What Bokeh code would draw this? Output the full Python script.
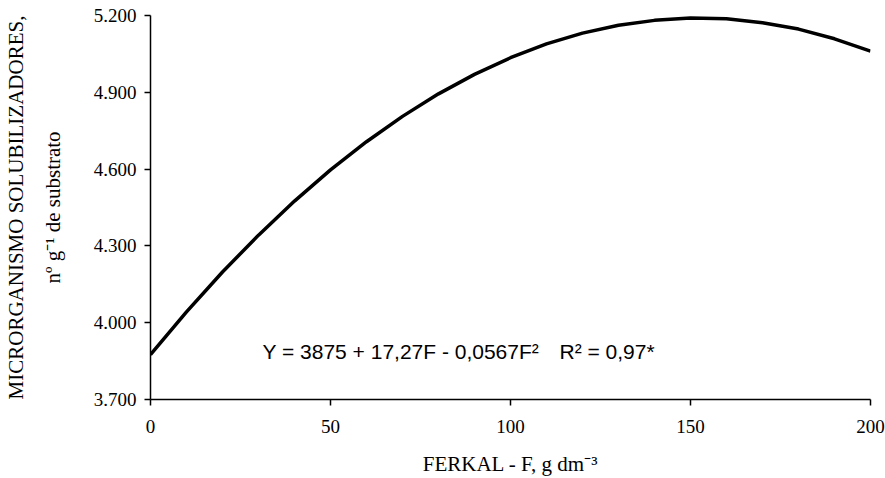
from bokeh.plotting import figure
from bokeh.models import Range1d, FixedTicker, Label, LinearAxis
from bokeh.embed import file_html
from bokeh.resources import INLINE

# Data
ferkal = [0, 10, 20, 30, 40, 50, 60, 70, 80, 90, 100, 110, 120, 130, 140, 150, 160, 170, 180, 190, 200]
microrg = [3875, 4042, 4198, 4342, 4475, 4597, 4707, 4806, 4894, 4970, 5035, 5089, 5131, 5162, 5181,
           5190, 5187, 5172, 5147, 5109, 5061]

x_ticks = [0, 50, 100, 150, 200]
y_ticks = [3700, 4000, 4300, 4600, 4900, 5200]
y_tick_labels = ["3.700", "4.000", "4.300", "4.600", "4.900", "5.200"]

equation = "Y = 3875 + 17,27F - 0,0567F\u00b2"
r_squared = "R\u00b2 = 0,97*"
ylabel1 = "MICRORGANISMO SOLUBILIZADORES,"
ylabel2 = "n\u00ba g\u207b\u00b9 de substrato"
xlabel = "FERKAL - F, g dm\u207b\u00b3"

p = figure(width=885, height=478, output_backend="svg", toolbar_location=None,
           x_range=Range1d(0, 200), y_range=Range1d(3700, 5200),
           min_border_left=148, min_border_right=15, min_border_top=15, min_border_bottom=78)
p.outline_line_color = None
p.xgrid.visible = False
p.ygrid.visible = False
p.background_fill_color = "white"
p.border_fill_color = "white"

p.line(ferkal, microrg, line_color="black", line_width=3.5)

for ax in (p.xaxis[0], p.yaxis[0]):
    ax.axis_line_color = "black"
    ax.axis_line_width = 1.5
    ax.major_tick_line_color = "black"
    ax.major_tick_line_width = 1.5
    ax.major_tick_in = 0
    ax.major_tick_out = 6
    ax.minor_tick_line_color = None
    ax.major_label_text_font = "Liberation Serif"
    ax.major_label_text_font_size = "19px"
    ax.major_label_text_color = "black"
    ax.axis_label_text_font = "Liberation Serif"
    ax.axis_label_text_font_size = "21px"
    ax.axis_label_text_font_style = "normal"
    ax.axis_label_text_color = "black"

p.xaxis.ticker = FixedTicker(ticks=x_ticks)
p.xaxis.major_label_standoff = 14
p.xaxis.axis_label = xlabel
p.xaxis.axis_label_standoff = 16

p.yaxis.ticker = FixedTicker(ticks=y_ticks)
p.yaxis.major_label_overrides = {t: l for t, l in zip(y_ticks, y_tick_labels)}
p.yaxis.major_label_standoff = 8
p.yaxis.axis_label = ylabel2
p.yaxis.axis_label_standoff = 26

outer = LinearAxis(ticker=FixedTicker(ticks=[]), axis_label=ylabel1,
                   axis_line_color=None, major_tick_line_color=None, minor_tick_line_color=None,
                   major_tick_out=0, major_tick_in=0, major_label_standoff=0,
                   axis_label_standoff=10, axis_label_text_font="Liberation Serif",
                   axis_label_text_font_size="21px", axis_label_text_font_style="normal",
                   axis_label_text_color="black")
p.add_layout(outer, "left")

p.add_layout(Label(x=112, y=48, x_units="screen", y_units="screen", text=equation,
                   text_font="Liberation Sans", text_font_size="21px", text_color="black",
                   text_baseline="middle", text_align="left"))
p.add_layout(Label(x=409, y=48, x_units="screen", y_units="screen", text=r_squared,
                   text_font="Liberation Sans", text_font_size="21px", text_color="black",
                   text_baseline="middle", text_align="left"))

open("out.html", "w").write(file_html(p, INLINE))
